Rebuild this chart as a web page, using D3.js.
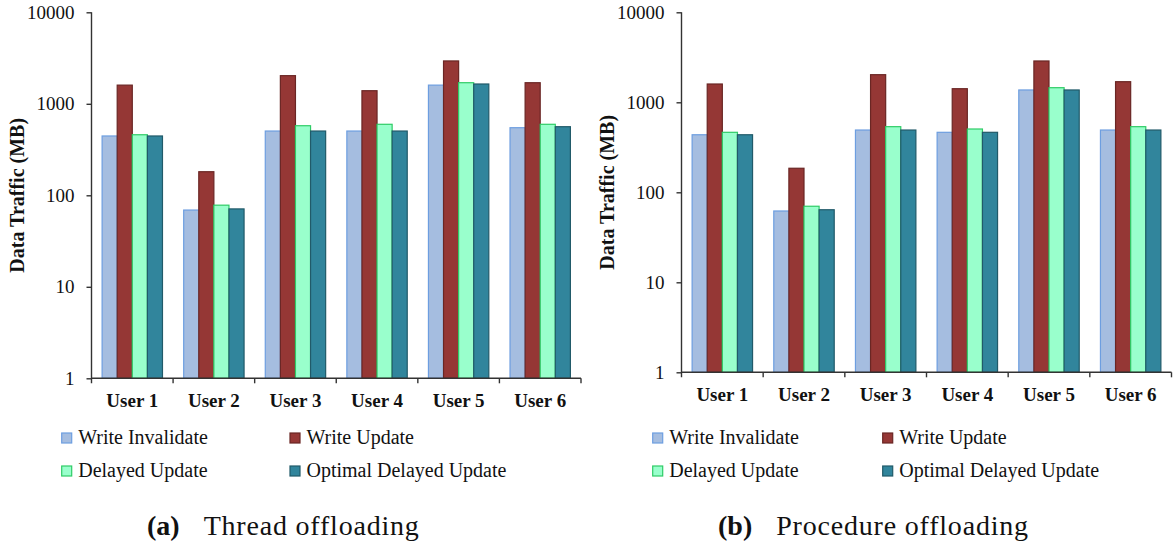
<!DOCTYPE html>
<html>
<head>
<meta charset="utf-8">
<script src="https://cdn.jsdelivr.net/npm/d3@7"></script>
<style>
  body { margin: 0; background: #fff; }
  svg, svg text { font-family: "Liberation Serif", "DejaVu Serif", serif; fill: #111; }
</style>
</head>
<body>
<div id="chart"></div>
<script>
// data (MB, log scale)
var users = ["User 1", "User 2", "User 3", "User 4", "User 5", "User 6"];
var series = ["Write Invalidate", "Write Update", "Delayed Update", "Optimal Delayed Update"];
var yTicks = [1, 10, 100, 1000, 10000];

// (a) thread offloading
var threadWI  = [445, 69, 504, 504, 1600, 548];
var threadWU  = [1600, 181, 2030, 1390, 2940, 1700];
var threadDU  = [459, 78, 576, 597, 1700, 597];
var threadODU = [445, 71, 504, 504, 1646, 562];

// (b) procedure offloading
var procWI  = [436, 62, 492, 464, 1371, 492];
var procWU  = [1597, 185, 2027, 1416, 2878, 1694];
var procDU  = [464, 70, 536, 505, 1453, 536];
var procODU = [436, 64, 492, 464, 1371, 492];

var fills   = ["#a5bde0", "#953735", "#99ffcc", "#31859c"];
var strokes = ["#6d9ee0", "#6a2624", "#2fcc66", "#215a69"];

var serifFont = "'Liberation Serif', 'DejaVu Serif', serif";
var width = 1176, height = 546;

var svg = d3.select("#chart")
    .append("svg")
    .attr("width", width)
    .attr("height", height)
    .attr("font-family", serifFont);

function drawPanel(opts) {
    var values = opts.values;
    var g = svg.append("g");

    var x0 = d3.scaleBand()
        .domain(users)
        .range([opts.left, opts.right]);

    var x1 = d3.scaleBand()
        .domain(series)
        .range([x0.bandwidth() * 0.13, x0.bandwidth() * 0.87]);

    var y = d3.scaleLog()
        .domain([1, 10000])
        .range([opts.bottom, opts.top]);

    // bars
    users.forEach(function(u, i) {
        g.selectAll(null)
            .data(series)
            .join("rect")
            .attr("x", function(s) { return x0(u) + x1(s); })
            .attr("width", x1.bandwidth())
            .attr("y", function(s, j) { return y(values[j][i]); })
            .attr("height", function(s, j) { return y(1) - y(values[j][i]); })
            .attr("fill", function(s, j) { return fills[j]; })
            .attr("stroke", function(s, j) { return strokes[j]; })
            .attr("stroke-width", 1.2);
    });

    // y axis
    var yAxis = g.append("g")
        .attr("transform", "translate(" + opts.left + ",0)")
        .call(d3.axisLeft(y).tickValues(yTicks).tickSize(5).tickPadding(12).tickFormat(d3.format("d")))
        .attr("font-family", serifFont);
    yAxis.select(".domain").attr("d", "M0," + opts.top + "V" + (opts.bottom + 5)).attr("stroke", "#333").attr("stroke-width", 1.4);
    yAxis.selectAll(".tick line").attr("stroke", "#333").attr("stroke-width", 1.4);
    yAxis.selectAll(".tick text").attr("font-size", 19).attr("fill", "#111");

    // x axis
    var xAxis = g.append("g");
    xAxis.append("line")
        .attr("x1", opts.left).attr("x2", opts.right)
        .attr("y1", y(1)).attr("y2", y(1))
        .attr("stroke", "#333").attr("stroke-width", 1.4);
    xAxis.selectAll(".xt")
        .data(users.slice(1).concat(["end"]))
        .join("line")
        .attr("x1", function(d) { return d == "end" ? opts.right : x0(d); })
        .attr("x2", function(d) { return d == "end" ? opts.right : x0(d); })
        .attr("y1", y(1)).attr("y2", y(1) + 5)
        .attr("stroke", "#333").attr("stroke-width", 1.4);
    xAxis.selectAll(".xl")
        .data(users)
        .join("text")
        .attr("x", function(d) { return x0(d) + x0.bandwidth() / 2; })
        .attr("y", y(1) + 29)
        .attr("text-anchor", "middle")
        .attr("font-size", 19)
        .attr("font-weight", "bold")
        .text(function(d) { return d; });

    // y title
    g.append("text")
        .attr("transform", "translate(" + (opts.left - 68) + "," + ((opts.top + opts.bottom) / 2) + ") rotate(-90)")
        .attr("text-anchor", "middle")
        .attr("font-size", 20)
        .attr("font-weight", "bold")
        .text("Data Traffic (MB)");

    // legend
    var legendPos = [[0, 0], [1, 0], [0, 1], [1, 1]];
    series.forEach(function(s, j) {
        var lx = opts.legendX[legendPos[j][0]];
        var ly = 433 + legendPos[j][1] * 33;
        g.append("rect")
            .attr("x", lx).attr("y", ly)
            .attr("width", 10).attr("height", 10)
            .attr("fill", fills[j]).attr("stroke", strokes[j]).attr("stroke-width", 1.2);
        g.append("text")
            .attr("x", lx + 16.5).attr("y", ly + 11)
            .attr("font-size", 20)
            .text(s);
    });

    // caption
    var cap = g.append("text")
        .attr("x", opts.captionX)
        .attr("y", 535)
        .attr("font-size", 28);
    cap.append("tspan").attr("font-weight", "bold").text(opts.tag);
    cap.append("tspan").attr("dx", 24).attr("letter-spacing", 0.8).text(opts.caption);
}

drawPanel({
    values: [threadWI, threadWU, threadDU, threadODU],
    left: 91.5, right: 581, top: 12.3, bottom: 378.3,
    legendX: [61.7, 290],
    captionX: 147, tag: "(a)", caption: "Thread offloading"
});

drawPanel({
    values: [procWI, procWU, procDU, procODU],
    left: 681.5, right: 1171.5, top: 12.3, bottom: 372.3,
    legendX: [652.7, 882.7],
    captionX: 718, tag: "(b)", caption: "Procedure offloading"
});
</script>
</body>
</html>
